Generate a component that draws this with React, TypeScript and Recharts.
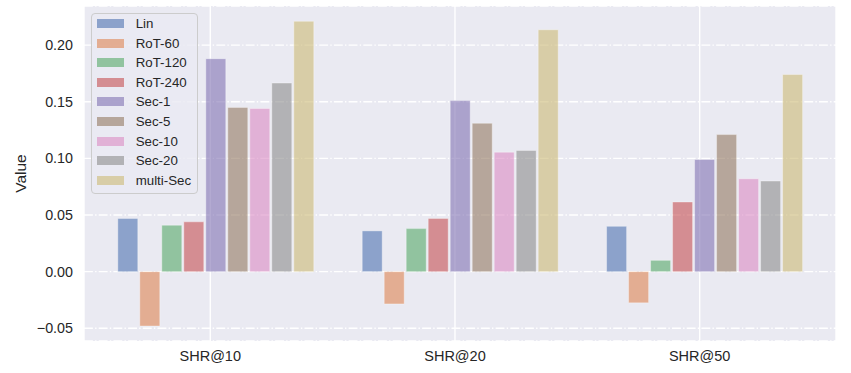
import React from 'react'
import { BarChart, Bar, CartesianGrid, XAxis, YAxis, Legend, Label } from 'recharts'

const categories = ['SHR@10', 'SHR@20', 'SHR@50']

const lin = [0.047, 0.036, 0.040]
const rot60 = [-0.048, -0.0285, -0.0275]
const rot120 = [0.041, 0.038, 0.010]
const rot240 = [0.044, 0.047, 0.0615]
const sec1 = [0.188, 0.151, 0.099]
const sec5 = [0.145, 0.131, 0.121]
const sec10 = [0.144, 0.1055, 0.082]
const sec20 = [0.1665, 0.107, 0.080]
const multiSec = [0.221, 0.2135, 0.174]

const yTicks = [-0.05, 0, 0.05, 0.1, 0.15, 0.2]

const series = [
  { key: 'Lin', values: lin, color: '#4C72B0' },
  { key: 'RoT-60', values: rot60, color: '#DD8452' },
  { key: 'RoT-120', values: rot120, color: '#55A868' },
  { key: 'RoT-240', values: rot240, color: '#C44E52' },
  { key: 'Sec-1', values: sec1, color: '#8172B3' },
  { key: 'Sec-5', values: sec5, color: '#937860' },
  { key: 'Sec-10', values: sec10, color: '#DA8BC3' },
  { key: 'Sec-20', values: sec20, color: '#8C8C8C' },
  { key: 'multi-Sec', values: multiSec, color: '#CCB974' },
]
const seriesOrder = series.map((s) => s.key)

const data = categories.map((name, i) => {
  const row: Record<string, string | number> = { name, idx: i }
  series.forEach((s) => {
    row[s.key] = s.values[i]
  })
  return row
})

const FONT = '"Liberation Sans", Arial, sans-serif'
const TEXT = '#262626'

const fmt = (v: number) => (v < 0 ? '\u2212' + Math.abs(v).toFixed(2) : v.toFixed(2))

function LegendBox({ payload }: any) {
  // keep the plotting order, not the alphabetical one
  const items = [...(payload || [])].sort(
    (a: any, b: any) => seriesOrder.indexOf(a.value) - seriesOrder.indexOf(b.value),
  )
  return (
    <div
      style={{
        boxSizing: 'border-box',
        width: 107,
        height: 181,
        border: '1px solid #cccccc',
        borderRadius: 4,
        background: 'rgba(234,234,242,0.8)',
        paddingLeft: 5,
        paddingTop: 0,
        fontFamily: FONT,
        fontSize: 13.3,
        color: TEXT,
      }}
    >
      {items.map((p: any) => (
        <div key={p.value} style={{ display: 'flex', alignItems: 'center', height: 19.6 }}>
          <span
            style={{
              display: 'inline-block',
              width: 27,
              height: 9,
              background: p.color,
              opacity: 0.6,
              marginRight: 12,
            }}
          />
          <span>{p.value}</span>
        </div>
      ))}
    </div>
  )
}

export default function App() {
  return (
    <div style={{ position: 'absolute', left: 0, top: 0 }}>
      <BarChart
        width={851}
        height={373}
        data={data}
        margin={{ top: 6, right: 15, left: 0, bottom: 0 }}
        barSize={20}
        barGap={2}
      >
        <CartesianGrid
          xAxisId="num"
          vertical={false}
          fill="#EAEAF2"
          stroke="#ffffff"
          strokeWidth={1.4}
          strokeDasharray="8.9 2.2 1.4 2.2"
        />
        <CartesianGrid xAxisId="num" horizontal={false} stroke="#ffffff" strokeWidth={1.4} />
        <XAxis
          xAxisId="num"
          dataKey="idx"
          type="number"
          domain={[-0.516, 2.557]}
          allowDataOverflow
          ticks={[0, 1, 2]}
          tickFormatter={(i: number) => categories[i]}
          axisLine={false}
          tickLine={false}
          tickSize={0}
          tickMargin={10}
          height={32}
          tick={{ fill: TEXT, fontSize: 14.5, fontFamily: FONT }}
        />
        <XAxis xAxisId="cat" dataKey="name" hide height={0} padding={{ left: 9.8, right: 9 }} />
        <YAxis
          domain={[-0.0612, 0.2345]}
          allowDataOverflow
          ticks={yTicks}
          tickFormatter={fmt}
          axisLine={false}
          tickLine={false}
          tickSize={0}
          tickMargin={11}
          width={84}
          tick={{ fill: TEXT, fontSize: 14.3, fontFamily: FONT }}
        >
          <Label
            content={({ viewBox }: any) => {
              const cx = viewBox.x + 20
              const cy = viewBox.y + viewBox.height / 2
              return (
                <text
                  x={cx}
                  y={cy}
                  transform={`rotate(-90 ${cx} ${cy})`}
                  textAnchor="middle"
                  dominantBaseline="central"
                  fill={TEXT}
                  fontSize={15.5}
                  fontFamily={FONT}
                >
                  Value
                </text>
              )
            }}
          />
        </YAxis>
        <Legend
          layout="vertical"
          align="center"
          verticalAlign="middle"
          content={<LegendBox />}
          wrapperStyle={{ left: 90.7, top: 12.7, width: 107, height: 181 }}
        />
        {series.map((s) => (
          <Bar
            key={s.key}
            xAxisId="cat"
            dataKey={s.key}
            name={s.key}
            fill={s.color}
            fillOpacity={0.6}
            stroke="#ffffff"
            strokeOpacity={0.35}
            strokeWidth={1}
            isAnimationActive={false}
          />
        ))}
      </BarChart>
    </div>
  )
}
